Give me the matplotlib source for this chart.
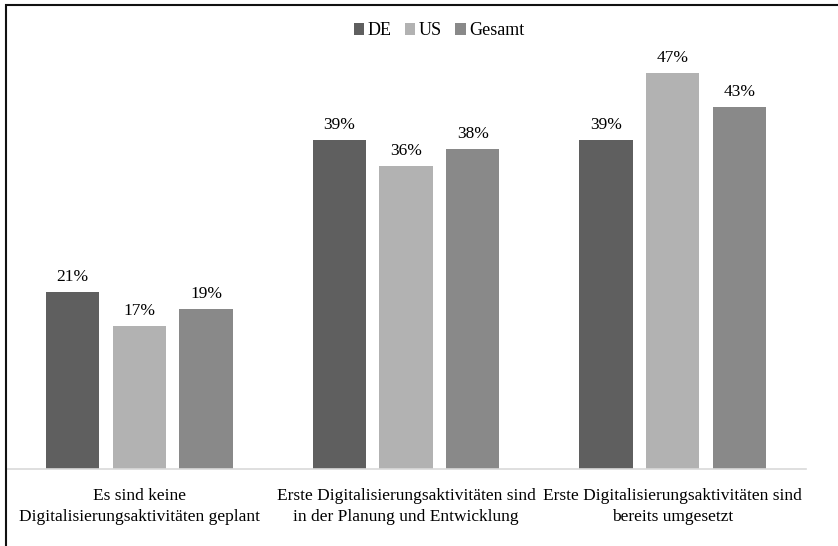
import matplotlib.pyplot as plt
import numpy as np
from matplotlib.patches import Rectangle

categories = [
    "Es sind keine\nDigitalisierungsaktivitäten geplant",
    "Erste Digitalisierungsaktivitäten sind\nin der Planung und Entwicklung",
    "Erste Digitalisierungsaktivitäten sind\nbereits umgesetzt",
]
series = ["DE", "US", "Gesamt"]
values_de = [21, 39, 39]
values_us = [17, 36, 47]
values_total = [19, 38, 43]
colors = ["#5f5f5f", "#b2b2b2", "#898989"]

plt.rcParams["font.family"] = ["Liberation Serif", "DejaVu Serif"]

W, H = 838, 546
fig = plt.figure(figsize=(W / 100, H / 100), dpi=100)
ax = fig.add_axes([6 / W, (H - 469) / H, 800 / W, (469 - 46) / H])

x = np.arange(len(categories))
width = 0.2
step = 0.25
fs = 12.5
for i, (name, vals, col) in enumerate(zip(series, [values_de, values_us, values_total], colors)):
    pos = x + (i - 1) * step
    ax.bar(pos, vals, width=width, color=col, label=name, zorder=2)
    for p, v in zip(pos, vals):
        ax.annotate(f"{v}%", (p, v), xytext=(0, 5), textcoords="offset points",
                    ha="center", va="bottom", fontsize=fs)

ax.set_xlim(-0.5, 2.5)
ax.set_ylim(0, 50.2)
ax.set_xticks(x)
ax.set_xticklabels(categories, fontsize=fs, linespacing=1.4)
ax.tick_params(axis="x", length=0, pad=14)
ax.set_yticks([])
for side in ["top", "right", "left"]:
    ax.spines[side].set_visible(False)
ax.spines["bottom"].set_color("#d9d9d9")
ax.spines["bottom"].set_linewidth(1.2)

ax.legend(loc="center", bbox_to_anchor=(439 / W, (H - 31) / H), bbox_transform=fig.transFigure,
          ncol=3, frameon=False, fontsize=13, handlelength=0.6, handleheight=0.6,
          handletextpad=0.2, columnspacing=0.7)

# outer frame, open to the right and bottom
fig.patches.append(Rectangle((6 / W, -0.1), 1.2, (H - 5) / H + 0.1, transform=fig.transFigure,
                             fill=False, edgecolor="#111111", linewidth=1.5, zorder=10))

fig.savefig("out.png", dpi=100)
